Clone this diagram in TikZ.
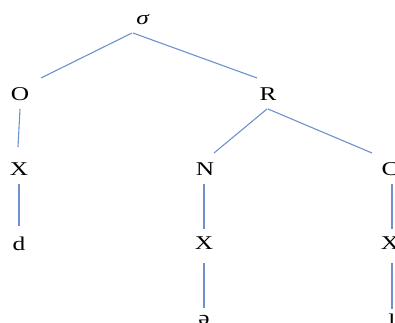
\documentclass[tikz,border=0pt]{standalone}
\usepackage{fontspec}
\setmainfont{Liberation Serif}
\definecolor{branch}{RGB}{110,145,205}
\newcommand{\widetxt}[1]{\scalebox{1.3}[1]{#1}}
\begin{document}
\begin{tikzpicture}[x=1pt,y=-1pt,
  lbl/.style={inner sep=0pt,font=\fontsize{19.5}{22}\selectfont},
  br/.style={draw=branch,line width=1.1pt}]
\useasboundingbox (0,0) rectangle (395,322);
\clip (0,0) rectangle (395,322);
\node[lbl] (sigma) at (143,20) {\widetxt{\textit{σ}}};
\node[lbl] (O) at (20,94) {\widetxt{O}};
\node[lbl] (R) at (268,94) {\widetxt{R}};
\node[lbl] (X1) at (19,169) {\widetxt{X}};
\node[lbl] (N) at (205,169) {\widetxt{N}};
\node[lbl] (C) at (390,169) {\widetxt{C}};
\node[lbl] (d) at (19,244) {\widetxt{d}};
\node[lbl] (X2) at (204,243) {\widetxt{X}};
\node[lbl] (X3) at (390,243) {\widetxt{X}};
\node[lbl] (schwa) at (204,320) {\widetxt{ə}};
\node[lbl] (l) at (392,320.5) {\widetxt{l}};
\draw[br] ([shift={(-11,13)}]sigma.center) -- ([shift={(21,-16)}]O.center);
\draw[br] ([shift={(-10,13)}]sigma.center) -- ([shift={(-11,-16)}]R.center);
\draw[br] ([shift={(0,15)}]O.center) -- ([shift={(-1,-22)}]X1.center);
\draw[br] ([shift={(-1,15)}]R.center) -- ([shift={(9,-16)}]N.center);
\draw[br] ([shift={(0,15)}]R.center) -- ([shift={(-18,-16)}]C.center);
\draw[br] ([shift={(0,15)}]X1.center) -- ([shift={(0,-18)}]d.center);
\draw[br] ([shift={(-1,15)}]N.center) -- ([shift={(0,-14)}]X2.center);
\draw[br] ([shift={(2,15)}]C.center) -- ([shift={(2,-14)}]X3.center);
\draw[br] ([shift={(0,20)}]X2.center) -- ([shift={(0,-12)}]schwa.center);
\draw[br] ([shift={(2,20)}]X3.center) -- ([shift={(0,-12)}]l.center);
\end{tikzpicture}
\end{document}
